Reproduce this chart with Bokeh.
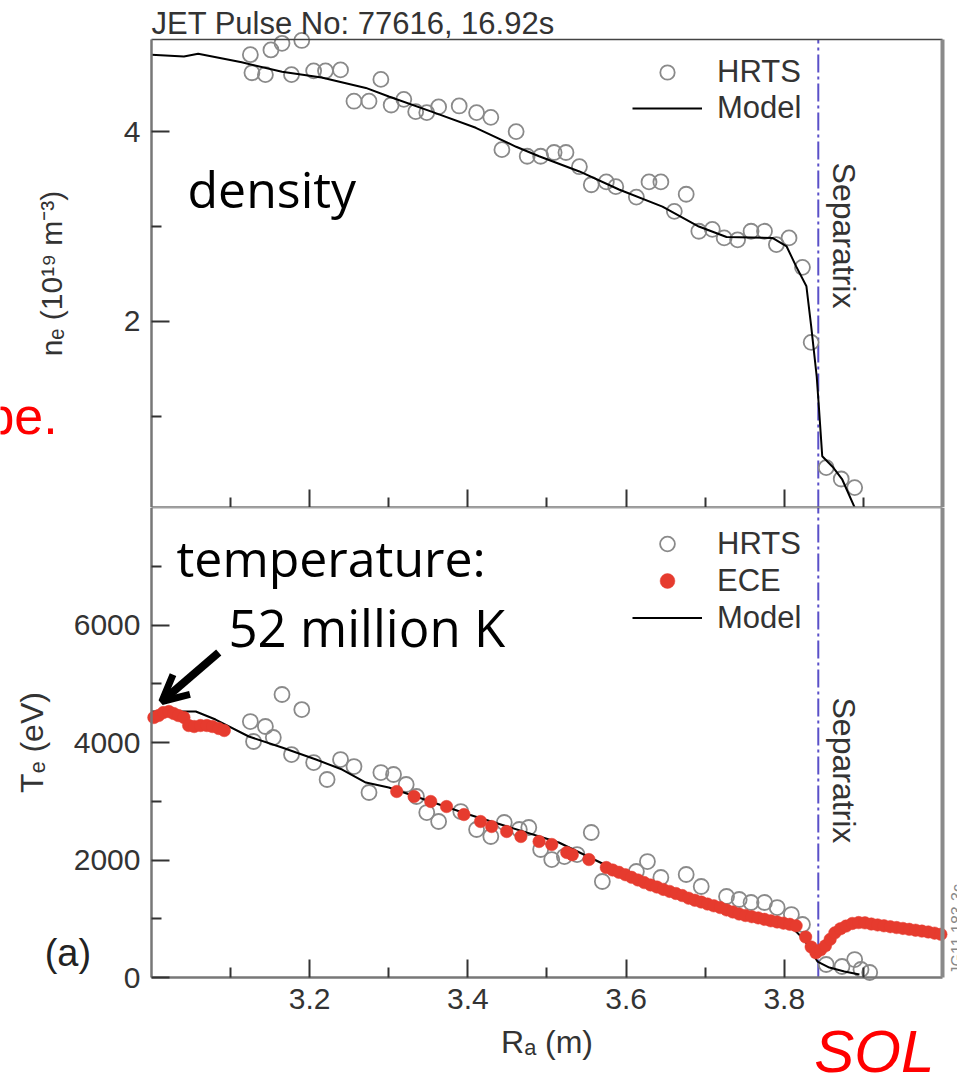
import math
from bokeh.plotting import figure
from bokeh.layouts import column
from bokeh.models import (Range1d, FixedTicker, LinearAxis, Label, Legend,
                          LegendItem, Arrow, OpenHead, CustomLabelingPolicy)
from bokeh.embed import file_html
from bokeh.resources import INLINE

# ---------------- data ----------------
# density panel (10^19 m^-3)
hrts_n_R = [3.125, 3.151, 3.165, 3.190, 3.127, 3.144, 3.177, 3.205, 3.220, 3.239,
            3.290, 3.256, 3.275, 3.303, 3.319, 3.334, 3.348, 3.363, 3.389, 3.411,
            3.429, 3.461, 3.443, 3.475, 3.492, 3.509, 3.524, 3.541, 3.556, 3.575,
            3.587, 3.613, 3.629, 3.644, 3.676, 3.661, 3.692, 3.709, 3.724, 3.741,
            3.758, 3.775, 3.790, 3.806, 3.823, 3.834, 3.853, 3.872, 3.889]
hrts_n = [4.81, 4.86, 4.93, 4.96, 4.62, 4.60, 4.60, 4.64, 4.64, 4.65,
          4.55, 4.32, 4.32, 4.28, 4.34, 4.21, 4.20, 4.26, 4.27, 4.20,
          4.15, 4.00, 3.81, 3.74, 3.74, 3.78, 3.78, 3.63, 3.44, 3.47,
          3.42, 3.31, 3.47, 3.47, 3.34, 3.16, 2.95, 2.97, 2.88, 2.86,
          2.95, 2.95, 2.81, 2.88, 2.57, 1.78, 0.46, 0.34, 0.25]
model_n_R = [3.000, 3.041, 3.059, 3.114, 3.165, 3.215, 3.271, 3.300, 3.354, 3.410,
             3.461, 3.490, 3.541, 3.591, 3.646, 3.692, 3.727, 3.785, 3.803, 3.815,
             3.828, 3.834, 3.841, 3.844, 3.848, 3.861, 3.873, 3.889]
model_n = [4.81, 4.79, 4.82, 4.73, 4.63, 4.57, 4.46, 4.37, 4.21, 4.04,
           3.84, 3.74, 3.58, 3.39, 3.21, 3.00, 2.89, 2.88, 2.79, 2.58,
           2.37, 1.95, 1.42, 1.07, 0.58, 0.47, 0.34, 0.04]

# temperature panel (eV)
hrts_T_R = [3.165, 3.190, 3.125, 3.144, 3.154, 3.129, 3.177, 3.205, 3.239, 3.256,
            3.222, 3.290, 3.306, 3.275, 3.322, 3.335, 3.348, 3.363, 3.391, 3.411,
            3.429, 3.446, 3.465, 3.477, 3.492, 3.506, 3.522, 3.538, 3.556, 3.570,
            3.613, 3.627, 3.644, 3.676, 3.695, 3.727, 3.743, 3.758, 3.775, 3.791,
            3.809, 3.823, 3.853, 3.873, 3.889, 3.897, 3.908]
hrts_T = [4817, 4561, 4357, 4272, 4085, 4017, 3795, 3659, 3710, 3591,
          3370, 3489, 3455, 3149, 3285, 3081, 2808, 2655, 2825, 2519,
          2400, 2638, 2519, 2553, 2179, 2008, 2059, 2093, 2468, 1634,
          1804, 1974, 1702, 1753, 1549, 1379, 1328, 1277, 1277, 1191,
          1072, 902, 221, 187, 306, 136, 85]
ece_R = [3.003, 3.009, 3.015, 3.022, 3.028, 3.034, 3.041, 3.047, 3.054, 3.062,
         3.070, 3.077, 3.085, 3.092,
         3.310, 3.332, 3.353, 3.373, 3.395, 3.416, 3.430, 3.449, 3.467, 3.490,
         3.506, 3.525, 3.532, 3.553, 3.575,
         3.583, 3.591, 3.599, 3.607, 3.615, 3.623, 3.631, 3.639, 3.647, 3.655,
         3.663, 3.671, 3.679, 3.687, 3.695, 3.703, 3.711, 3.719, 3.727, 3.735,
         3.743, 3.751, 3.759, 3.767, 3.775, 3.783, 3.791, 3.799, 3.807, 3.815,
         3.827, 3.834, 3.840, 3.846, 3.852, 3.858, 3.864, 3.871, 3.878,
         3.886, 3.894, 3.902, 3.910, 3.918, 3.926, 3.934, 3.942, 3.950, 3.958,
         3.966, 3.974, 3.982, 3.990, 3.998]
ece_T = [4425, 4459, 4510, 4527, 4493, 4459, 4425, 4289, 4272, 4289,
         4289, 4272, 4238, 4204,
         3166, 3081, 2996, 2910, 2774, 2655, 2570, 2485, 2400, 2315,
         2264, 2128, 2090, 2008, 1872,
         1830, 1790, 1750, 1705, 1660, 1615, 1575, 1540, 1500, 1465,
         1430, 1395, 1350, 1315, 1285, 1250, 1220, 1190, 1150, 1115,
         1080, 1055, 1035, 1015, 990, 965, 945, 925, 905, 880,
         690, 520, 420, 470, 540, 650, 760, 830, 875,
         920, 935, 930, 910, 895, 880, 865, 850, 835, 820,
         805, 790, 775, 755, 735]
model_T_R = [3.000, 3.056, 3.081, 3.123, 3.165, 3.208, 3.241, 3.271, 3.300, 3.334,
             3.401, 3.515, 3.591, 3.692, 3.806, 3.825, 3.842, 3.857, 3.876, 3.895]
model_T = [4527, 4527, 4391, 4102, 3915, 3710, 3540, 3319, 3234, 3081,
           2774, 2298, 1804, 1294, 902, 647, 272, 170, 102, 51]

x_major = [3.2, 3.4, 3.6, 3.8]
x_minor = [3.1, 3.3, 3.5, 3.7, 3.9]
n_major = [2, 4]
n_minor = [1, 3]
T_major = [0, 2000, 4000, 6000]
T_minor = [1000, 3000, 5000, 7000]
separatrix_R = 3.843

# axis limits of the two boxes
R_lim = (3.0, 4.0)
n_lim = (0.04, 4.97)
T_lim = (0, 8000)

# ---------------- styling ----------------
FONT = "Liberation Sans"
AX = "#777777"
TXT = "#333333"
HRTS_C = "#8a8a8a"
ECE_C = "#e63b2e"
SEP_C = "#5a50c8"

# the frame covers the whole canvas; the boxes are drawn by fixed-location axes
xr = Range1d(2.8091, 4.0190)
CANVAS_W = 957


def tick_axis(loc, ticks, minors, bounds, **kw):
    ax = LinearAxis(fixed_location=loc, bounds=bounds,
                    ticker=FixedTicker(ticks=ticks, minor_ticks=minors),
                    axis_line_color=AX, axis_line_width=2.5,
                    major_tick_in=18, major_tick_out=0, minor_tick_in=10, minor_tick_out=0,
                    major_tick_line_color=TXT, major_tick_line_width=2,
                    minor_tick_line_color=TXT, minor_tick_line_width=2,
                    major_label_text_font=FONT, major_label_text_font_size="30px",
                    major_label_text_color=TXT, major_label_standoff=11,
                    axis_label_text_font=FONT, axis_label_text_font_size="30px",
                    axis_label_text_font_style="normal", axis_label_text_color=TXT)
    for k, v in kw.items():
        setattr(ax, k, v)
    return ax


def edge_axis(loc, bounds, color, width):
    return LinearAxis(fixed_location=loc, bounds=bounds, ticker=FixedTicker(ticks=[]),
                      axis_line_color=color, axis_line_width=width,
                      major_tick_in=0, major_tick_out=0, minor_tick_in=0, minor_tick_out=0,
                      major_label_text_font_size="0px", major_label_standoff=0)


def base_fig(yr, h):
    p = figure(frame_width=CANVAS_W, frame_height=h, x_range=xr, y_range=yr,
               output_backend="svg", toolbar_location=None,
               x_axis_location=None, y_axis_location=None, min_border=0)
    p.background_fill_color = "white"
    p.border_fill_color = "white"
    p.outline_line_color = None
    p.grid.visible = False
    return p


# ---------------- top panel: density ----------------
p1 = base_fig(Range1d(0.04, 5.381), 507)
p1.add_layout(tick_axis(n_lim[0], x_major, x_minor, R_lim,
                        major_label_text_font_size="0px", major_label_standoff=0,
                        major_label_policy=CustomLabelingPolicy(
                            code="for (const i of indices) { indices.unset(i) }\nreturn indices")),
              "below")
p1.add_layout(tick_axis(R_lim[0], n_major, n_minor, n_lim,
                        axis_label="n\u2091 (10\u00b9\u2079 m\u207b\u00b3)",
                        axis_label_standoff=53), "left")
p1.add_layout(edge_axis(n_lim[1], R_lim, "#444444", 1.5), "above")
p1.add_layout(edge_axis(R_lim[1], n_lim, "#8a8a8a", 4), "right")
p1.line([separatrix_R, separatrix_R], list(n_lim), line_color=SEP_C, line_width=2,
        line_dash="18 4 3 4")

r_hn = p1.scatter(hrts_n_R, hrts_n, marker="circle", size=15, fill_color=None,
                  line_color=HRTS_C, line_width=1.8)
r_mn = p1.line(model_n_R, model_n, line_color="black", line_width=2)

leg1 = Legend(items=[LegendItem(label="HRTS", renderers=[r_hn]),
                     LegendItem(label="Model", renderers=[r_mn])],
              location=(632, 381), border_line_color=None, background_fill_alpha=0,
              padding=0, margin=0, glyph_width=70, glyph_height=36, label_height=36,
              spacing=0, label_standoff=15, label_text_font=FONT,
              label_text_font_size="31px", label_text_color=TXT)
p1.add_layout(leg1)

p1.add_layout(Label(x=3.0, y=5.139, text="JET Pulse No: 77616, 16.92s",
                    text_font=FONT, text_font_size="31px", text_color=TXT,
                    text_baseline="alphabetic"))
p1.add_layout(Label(x=3.0455, y=3.40, text="density", text_font="Open Sans",
                    text_font_size="50px", text_color="black", text_baseline="alphabetic"))
p1.add_layout(Label(x=3.876, y=3.674, text="Separatrix", text_font=FONT,
                    text_font_size="32px", text_color=TXT, angle=-math.pi / 2,
                    text_align="left", text_baseline="alphabetic"))
p1.add_layout(Label(x=2.790, y=1.009, text="be.", text_font=FONT,
                    text_font_size="52px", text_color="red", text_baseline="alphabetic"))

# ---------------- bottom panel: temperature ----------------
p2 = base_fig(Range1d(-1719, 8000), 571)
p2.add_layout(tick_axis(T_lim[0], x_major, x_minor, R_lim,
                        axis_label="R\u2090 (m)", axis_label_text_font_size="32px",
                        axis_label_standoff=12), "below")
p2.add_layout(tick_axis(R_lim[0], T_major, T_minor, T_lim,
                        axis_label="T\u2091 (eV)", axis_label_text_font_size="32px",
                        axis_label_standoff=21), "left")
p2.add_layout(edge_axis(T_lim[1], R_lim, "#444444", 1.5), "above")
p2.add_layout(edge_axis(R_lim[1], T_lim, "#8a8a8a", 4), "right")
p2.line([separatrix_R, separatrix_R], list(T_lim), line_color=SEP_C, line_width=2,
        line_dash="18 4 3 4")

r_ht = p2.scatter(hrts_T_R, hrts_T, marker="circle", size=15, fill_color=None,
                  line_color=HRTS_C, line_width=1.8)
r_mt = p2.line(model_T_R, model_T, line_color="black", line_width=2)
r_ece = p2.scatter(ece_R, ece_T, marker="circle", size=12.5, fill_color=ECE_C,
                   line_color=ECE_C, line_width=0.5)

leg2 = Legend(items=[LegendItem(label="HRTS", renderers=[r_ht]),
                     LegendItem(label="ECE", renderers=[r_ece]),
                     LegendItem(label="Model", renderers=[r_mt])],
              location=(632, 442), border_line_color=None, background_fill_alpha=0,
              padding=0, margin=0, glyph_width=70, glyph_height=37, label_height=37,
              spacing=0, label_standoff=15, label_text_font=FONT,
              label_text_font_size="31px", label_text_color=TXT)
p2.add_layout(leg2)

p2.add_layout(Label(x=3.0316, y=7148, text="temperature:", text_font="Open Sans",
                    text_font_size="50px", text_color="black", text_baseline="alphabetic"))
p2.add_layout(Label(x=3.0973, y=5974, text="52 million K", text_font="Open Sans",
                    text_font_size="51px", text_color="black", text_baseline="alphabetic"))
p2.add_layout(Arrow(end=OpenHead(size=26, line_width=7, line_color="black"),
                    x_start=3.085, y_start=5532, x_end=3.013, y_end=4698,
                    line_width=8, line_color="black"))
p2.add_layout(Label(x=3.876, y=4766, text="Separatrix", text_font=FONT,
                    text_font_size="32px", text_color=TXT, angle=-math.pi / 2,
                    text_align="left", text_baseline="alphabetic"))
p2.add_layout(Label(x=2.865, y=425, text="(a)", text_font=FONT, text_font_size="38px",
                    text_color="#222222", text_baseline="alphabetic"))
p2.add_layout(Label(x=3.838, y=-1260, text="SOL", text_font=FONT, text_font_size="60px",
                    text_font_style="italic", text_color="red", text_baseline="alphabetic"))
p2.add_layout(Label(x=4.019, y=51, text="JG11.183-3c", text_font=FONT,
                    text_font_size="16px", text_color="#888888", angle=math.pi / 2,
                    text_baseline="alphabetic"))

layout = column(p1, p2, spacing=0)
open("out.html", "w").write(file_html(layout, INLINE))
